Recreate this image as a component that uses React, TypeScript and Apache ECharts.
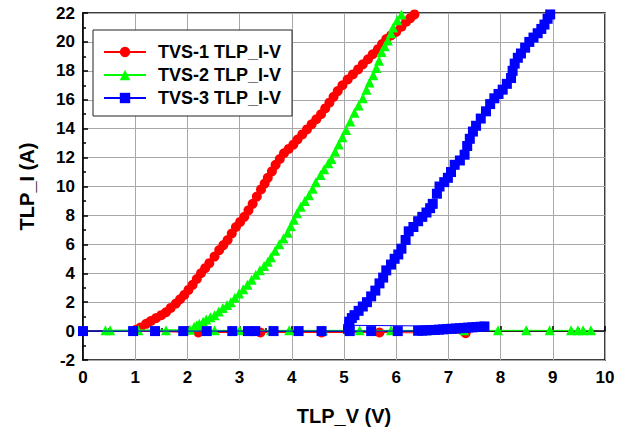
import React, { useEffect, useRef } from "react";
import * as echarts from "echarts";

const seriesNames = ["TVS-1 TLP_I-V", "TVS-2 TLP_I-V", "TVS-3 TLP_I-V"];
const seriesColors = ["#ff0000", "#00ff00", "#0000ff"];
const seriesSymbols = ["circle", "triangle", "rect"];

// [TLP_V (V), TLP_I (A)]
const tvs1: [number, number][] = [
  [7.33, -0.15], [5.68, -0.1], [4.57, -0.1], [3.4, -0.1], [2.21, -0.1],
  [1.0, 0.0], [1.02, 0.1], [1.1, 0.25], [1.21, 0.5], [1.3, 0.7], [1.4, 0.9],
  [1.5, 1.1], [1.59, 1.3], [1.68, 1.6], [1.78, 1.9], [1.86, 2.2], [1.94, 2.5],
  [2.02, 2.85], [2.1, 3.2], [2.18, 3.6], [2.26, 4.0], [2.34, 4.35], [2.42, 4.7],
  [2.52, 5.15], [2.61, 5.6], [2.69, 5.95], [2.77, 6.3], [2.85, 6.75], [2.93, 7.2],
  [3.01, 7.55], [3.09, 7.9], [3.17, 8.35], [3.25, 8.8], [3.33, 9.3], [3.41, 9.8],
  [3.48, 10.2], [3.54, 10.6], [3.62, 11.05], [3.69, 11.5], [3.77, 11.9], [3.85, 12.3],
  [3.94, 12.6], [4.03, 12.9], [4.11, 13.25], [4.2, 13.6], [4.29, 13.95], [4.38, 14.3],
  [4.47, 14.65], [4.56, 15.0], [4.64, 15.4], [4.72, 15.8], [4.8, 16.2], [4.88, 16.6],
  [4.97, 17.0], [5.07, 17.4], [5.17, 17.75], [5.27, 18.1], [5.36, 18.45], [5.46, 18.8],
  [5.55, 19.15], [5.65, 19.5], [5.73, 19.85], [5.81, 20.2], [5.9, 20.45], [6.0, 20.7],
  [6.1, 21.05], [6.19, 21.4], [6.27, 21.65], [6.35, 21.9],
];

const tvs2: [number, number][] = [
  [9.73, 0.05], [9.58, 0.05], [9.48, 0.05], [9.35, 0.05], [8.94, 0.05], [8.49, 0.05],
  [7.95, 0.05], [7.3, 0.05], [6.6, 0.05], [5.9, 0.05], [5.3, 0.05], [4.6, 0.05],
  [3.95, 0.05], [3.6, 0.05], [3.0, 0.05], [2.52, 0.05], [1.59, 0.05], [1.06, 0.05],
  [0.52, 0.05], [0.43, 0.05],
  [2.05, 0.1], [2.13, 0.3], [2.18, 0.4], [2.23, 0.5], [2.3, 0.65], [2.36, 0.8],
  [2.44, 0.95], [2.52, 1.1], [2.6, 1.35], [2.68, 1.6], [2.76, 1.8], [2.83, 2.0],
  [2.91, 2.3], [2.99, 2.6], [3.07, 2.9], [3.15, 3.2], [3.23, 3.55], [3.31, 3.9],
  [3.39, 4.2], [3.47, 4.5], [3.54, 4.8], [3.6, 5.1], [3.68, 5.55], [3.76, 6.0],
  [3.84, 6.4], [3.92, 6.8], [3.98, 7.25], [4.04, 7.7], [4.1, 8.15], [4.17, 8.6],
  [4.25, 9.0], [4.33, 9.4], [4.4, 9.85], [4.46, 10.3], [4.55, 10.8], [4.62, 11.2],
  [4.7, 11.6], [4.76, 11.9], [4.83, 12.4], [4.9, 12.9], [4.97, 13.4], [5.04, 13.9],
  [5.12, 14.5], [5.2, 15.1], [5.28, 15.6], [5.36, 16.1], [5.43, 16.7], [5.49, 17.2],
  [5.56, 17.7], [5.62, 18.2], [5.67, 18.7], [5.72, 19.3], [5.78, 19.7], [5.84, 20.1],
  [5.9, 20.6], [5.94, 21.0], [6.02, 21.5], [6.1, 21.9],
];

const tvs3: [number, number][] = [
  [0.0, 0.0], [0.96, 0.0], [1.38, 0.0], [1.92, 0.0], [2.37, 0.0], [2.86, 0.0],
  [3.16, 0.0], [3.3, 0.0], [3.65, 0.0], [4.13, 0.0], [4.57, 0.0], [5.11, 0.0],
  [5.52, 0.0], [6.03, 0.0],
  [6.42, 0.02], [6.5, 0.03], [6.58, 0.05], [6.66, 0.07], [6.74, 0.08], [6.82, 0.1],
  [6.9, 0.12], [6.98, 0.14], [7.06, 0.16], [7.14, 0.18], [7.22, 0.2], [7.3, 0.22],
  [7.38, 0.24], [7.46, 0.26], [7.54, 0.28], [7.62, 0.3], [7.69, 0.32],
  [5.1, 0.4], [5.08, 0.15], [5.1, 0.65], [5.15, 0.9], [5.2, 1.1], [5.28, 1.4],
  [5.36, 1.7], [5.44, 2.0], [5.52, 2.4], [5.6, 2.8], [5.68, 3.3], [5.75, 3.7],
  [5.81, 4.2], [5.9, 4.6], [5.97, 5.0], [6.04, 5.3], [6.1, 5.7], [6.18, 6.3],
  [6.24, 6.9], [6.33, 7.2], [6.42, 7.6], [6.5, 7.9], [6.58, 8.2], [6.65, 8.5],
  [6.7, 8.8], [6.78, 9.5], [6.83, 10.0], [6.92, 10.3], [6.99, 10.6], [7.05, 11.0],
  [7.12, 11.5], [7.22, 11.8], [7.31, 12.2], [7.36, 12.8], [7.41, 13.3], [7.47, 13.8],
  [7.53, 14.2], [7.62, 14.7], [7.72, 15.2], [7.8, 15.7], [7.88, 16.1], [7.96, 16.4],
  [8.04, 16.7], [8.12, 17.1], [8.2, 17.5], [8.23, 18.0], [8.27, 18.5], [8.33, 18.9],
  [8.39, 19.2], [8.47, 19.6], [8.55, 20.0], [8.63, 20.3], [8.71, 20.6], [8.78, 20.9],
  [8.84, 21.2], [8.9, 21.6], [8.95, 21.9],
];

const allData = [tvs1, tvs2, tvs3];

const FONT = "'Liberation Sans', Arial, sans-serif";

export default function App() {
  const ref = useRef<HTMLDivElement>(null);
  useEffect(() => {
    document.body.style.margin = "0";
    if (!ref.current) return;
    const chart = echarts.init(ref.current, null, { renderer: "svg" });
    chart.setOption({
      animation: false,
      backgroundColor: "#ffffff",
      grid: {
        left: 83,
        right: 24,
        top: 13,
        bottom: 74,
        show: true,
        borderColor: "#000",
        borderWidth: 1.5,
        backgroundColor: "transparent",
      },
      legend: {
        orient: "vertical",
        left: 93,
        top: 30,
        data: seriesNames,
        backgroundColor: "#ffffff",
        borderColor: "#222",
        borderWidth: 1,
        borderRadius: 0,
        padding: [13, 11, 9, 10],
        itemGap: 5,
        itemWidth: 42,
        itemHeight: 13,
        textStyle: {
          fontFamily: FONT,
          fontWeight: "bold",
          fontSize: 18,
          color: "#000",
          padding: [0, 0, 0, 7],
        },
      },
      xAxis: {
        type: "value",
        min: 0,
        max: 10,
        interval: 1,
        name: "TLP_V (V)",
        nameLocation: "middle",
        nameGap: 46,
        nameTextStyle: { fontFamily: FONT, fontWeight: "bold", fontSize: 20, color: "#000" },
        axisLine: { show: true, lineStyle: { color: "#000", width: 1.5 } },
        axisTick: { show: true, inside: true, length: 5, lineStyle: { color: "#000", width: 1.5 } },
        minorTick: { show: true, splitNumber: 2, length: 3, lineStyle: { color: "#000", width: 1.5 } },
        axisLabel: { fontFamily: FONT, fontWeight: "bold", fontSize: 17, color: "#000", margin: 9 },
        splitLine: { show: true, lineStyle: { color: "#a8a8a8", width: 1 } },
      },
      yAxis: {
        type: "value",
        min: -2,
        max: 22,
        interval: 2,
        name: "TLP_I (A)",
        nameLocation: "middle",
        nameGap: 46,
        nameTextStyle: { fontFamily: FONT, fontWeight: "bold", fontSize: 20, color: "#000" },
        axisLine: { show: true, lineStyle: { color: "#000", width: 1.5 } },
        axisTick: { show: true, inside: true, length: 5, lineStyle: { color: "#000", width: 1.5 } },
        minorTick: { show: true, splitNumber: 2, length: 3, lineStyle: { color: "#000", width: 1.5 } },
        axisLabel: { fontFamily: FONT, fontWeight: "bold", fontSize: 17, color: "#000", margin: 8 },
        splitLine: { show: true, lineStyle: { color: "#a8a8a8", width: 1 } },
      },
      series: allData.map((d, i) => ({
        name: seriesNames[i],
        type: "line",
        data: d,
        symbol: seriesSymbols[i],
        symbolSize: 10,
        showAllSymbol: true,
        clip: false,
        color: seriesColors[i],
        lineStyle: { color: seriesColors[i], width: 1 },
        itemStyle: { color: seriesColors[i] },
        z: 2 + i,
      })),
    });
    return () => chart.dispose();
  }, []);
  return <div ref={ref} style={{ width: 629, height: 434 }} />;
}
